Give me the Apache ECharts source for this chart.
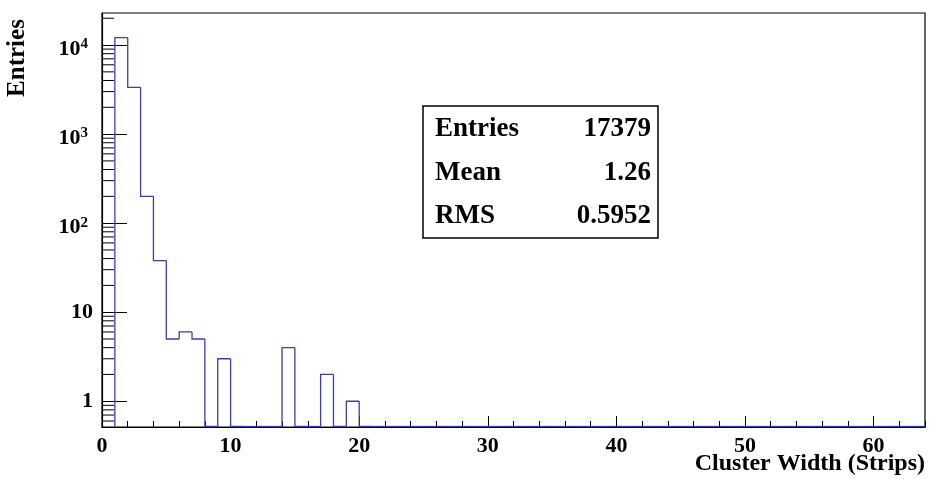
<!DOCTYPE html>
<html>
<head>
<meta charset="utf-8">
<script src="https://cdn.jsdelivr.net/npm/echarts@6/dist/echarts.min.js"></script>
<style>html,body{margin:0;padding:0;background:#fff;}#c{width:929px;height:479px;}</style>
</head>
<body>
<div id="c"></div>
<script>
// Histogram: bins of width 1 starting at first low edge
var firstBinLow = 1;
var binWidth = 1;
var counts = [12100, 3350, 200, 38, 5, 6, 5, 0, 3, 0,
              0, 0, 0, 4, 0, 0, 2, 0, 1, 0,
              0, 0, 0, 0, 0, 0, 0, 0, 0, 0,
              0, 0, 0, 0, 0, 0, 0, 0, 0, 0,
              0, 0, 0, 0, 0, 0, 0, 0, 0, 0,
              0, 0, 0, 0, 0, 0, 0, 0, 0, 0,
              0, 0, 0];
var xMin = 0, xMax = 64;
var yMin = 0.514, yMax = 22900;
var yMinorTicks = [0.6, 0.7, 0.8, 0.9,
                   2, 3, 4, 5, 6, 7, 8, 9,
                   20, 30, 40, 50, 60, 70, 80, 90,
                   200, 300, 400, 500, 600, 700, 800, 900,
                   2000, 3000, 4000, 5000, 6000, 7000, 8000, 9000,
                   20000];
var yTickLabels = {1: '1', 10: '10', 100: '{b|10}{s|2}', 1000: '{b|10}{s|3}', 10000: '{b|10}{s|4}'};
var statsLabels = ['Entries', 'Mean', 'RMS'];
var statsValues = ['17379', '1.26', '0.5952'];
var xTitle = 'Cluster Width (Strips)';
var yTitle = 'Entries';

var FONT = 'Liberation Serif';
var histColor = '#3d3db3';

var histData = counts.map(function (c, i) { return [firstBinLow + i * binWidth, c]; });

var chart = echarts.init(document.getElementById('c'), null, {renderer: 'canvas'});

var statsGraphics = [{
  type: 'rect', shape: {x: 423, y: 106, width: 235, height: 132},
  style: {fill: '#fff', stroke: '#000', lineWidth: 1.5}, z: 100
}];
var rowY = [129, 173, 216];
statsLabels.forEach(function (lab, i) {
  statsGraphics.push({type: 'text', x: 435, y: rowY[i], z: 101,
    style: {text: lab, font: 'bold 27px "' + FONT + '"', fill: '#000', align: 'left', verticalAlign: 'middle'}});
  statsGraphics.push({type: 'text', x: 651, y: rowY[i], z: 101,
    style: {text: statsValues[i], font: 'bold 27px "' + FONT + '"', fill: '#000', align: 'right', verticalAlign: 'middle'}});
});
statsGraphics.push({type: 'text', x: 925, y: 464, z: 101,
  style: {text: xTitle, font: 'bold 24px "' + FONT + '"', fill: '#000', align: 'right', verticalAlign: 'middle'}});
statsGraphics.push({type: 'text', x: 18, y: 58, rotation: Math.PI / 2, z: 101,
  style: {text: yTitle, font: 'bold 25px "' + FONT + '"', fill: '#000', align: 'center', verticalAlign: 'middle'}});

var option = {
  animation: false,
  backgroundColor: '#fff',
  grid: {left: 102, right: 4, top: 13, bottom: 52, show: true, borderColor: '#000', borderWidth: 1.2, backgroundColor: 'transparent'},
  xAxis: [{
    type: 'value', min: xMin, max: xMax, interval: 10,
    axisLine: {show: true, lineStyle: {color: '#000', width: 1.2}},
    axisTick: {show: true, inside: true, length: 11, lineStyle: {color: '#000', width: 1}},
    splitLine: {show: false},
    axisLabel: {show: true, margin: 8, showMaxLabel: false, color: '#000', fontFamily: FONT, fontWeight: 'bold', fontSize: 22}
  }, {
    type: 'value', min: xMin, max: xMax, interval: 2, position: 'bottom',
    axisLine: {show: false},
    axisTick: {show: true, inside: true, length: 6, lineStyle: {color: '#000', width: 1}},
    splitLine: {show: false},
    axisLabel: {show: false}
  }],
  yAxis: [{
    type: 'log', logBase: 10, min: yMin, max: yMax,
    axisLine: {show: true, lineStyle: {color: '#000', width: 1.2}},
    axisTick: {show: true, inside: true, length: 25, lineStyle: {color: '#000', width: 1}},
    splitLine: {show: false},
    axisLabel: {
      show: true, margin: 9, showMinLabel: false, showMaxLabel: false,
      color: '#000', fontFamily: FONT, fontWeight: 'bold', fontSize: 22,
      formatter: function (v) {
        var l = Math.log10(v);
        if (Math.abs(l - Math.round(l)) > 1e-6) return '';
        var k = Math.round(Math.pow(10, Math.round(l)));
        return yTickLabels[k] || '';
      },
      rich: {
        b: {fontFamily: FONT, fontWeight: 'bold', fontSize: 22, lineHeight: 22, color: '#000', padding: [8, 0, 0, 0]},
        s: {fontFamily: FONT, fontWeight: 'bold', fontSize: 15, lineHeight: 16, color: '#000', verticalAlign: 'top', padding: [3, 5, 0, 0]}
      }
    }
  }],
  series: [{
    type: 'custom',
    coordinateSystem: 'cartesian2d',
    xAxisIndex: 0, yAxisIndex: 0,
    data: yMinorTicks.map(function (v) { return [xMin, v]; }),
    encode: {x: 0, y: 1},
    silent: true,
    renderItem: function (params, api) {
      var p = api.coord([api.value(0), api.value(1)]);
      return {type: 'line', shape: {x1: p[0], y1: p[1], x2: p[0] + 12, y2: p[1]},
        style: {stroke: '#000', lineWidth: 1}};
    },
    z: 5
  }, {
    type: 'custom',
    coordinateSystem: 'cartesian2d',
    xAxisIndex: 0, yAxisIndex: 0,
    data: histData,
    encode: {x: 0, y: 1},
    clip: true,
    silent: true,
    renderItem: function (params, api) {
      var i = params.dataIndex;
      var lo = histData[i][0];
      var hi = lo + binWidth;
      var val = histData[i][1];
      var prev = i > 0 ? histData[i - 1][1] : 0;
      var bottom = params.coordSys.y + params.coordSys.height;
      function yOf(v) { return v > 0 ? api.coord([lo, v])[1] : bottom - 0.5; }
      var xlo = api.coord([lo, yMax])[0];
      var xhi = api.coord([hi, yMax])[0];
      return {type: 'polyline', shape: {points: [[xlo, yOf(prev)], [xlo, yOf(val)], [xhi, yOf(val)]]},
        style: {stroke: histColor, lineWidth: 1.3, fill: null}};
    },
    z: 10
  }],
  graphic: statsGraphics
};
chart.setOption(option);
</script>
</body>
</html>
